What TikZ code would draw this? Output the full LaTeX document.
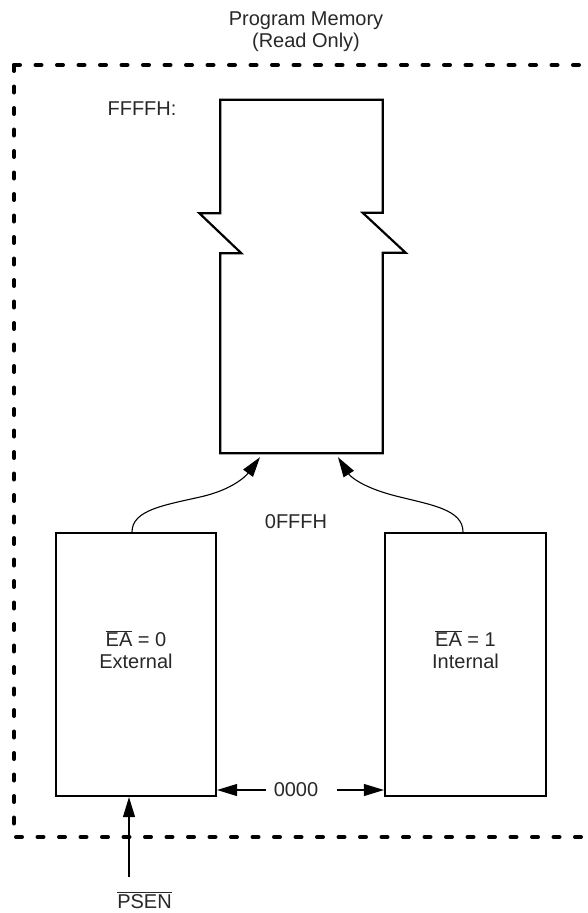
\documentclass[tikz,border=0pt]{standalone}
\usepackage{fontspec}
\setmainfont{Liberation Sans}
\usetikzlibrary{calc,arrows.meta,positioning}
\definecolor{inkgray}{RGB}{40,40,40}
\tikzset{
    % memory block outline
    membox/.style={
        draw=black, line width=2.2pt, inner sep=0pt,
        minimum width=160pt, minimum height=263pt
    },
    % plain labels
    lbl/.style={font=\fontsize{20}{22}\selectfont, text=inkgray, inner sep=0pt, align=center},
    % arrows
    thinarrow/.style={draw=black, line width=1.1pt, -{Triangle[length=20pt,width=12pt]}},
    % dashed outline of the program memory
    border/.style={draw=black, line width=4pt, dash pattern=on 6pt off 15.5pt, line cap=round},
}
\newcommand{\ovl}[1]{$\overline{\mbox{#1}}$}

\begin{document}
\begin{tikzpicture}[x=1pt,y=-1pt]
  \useasboundingbox (0,0) rectangle (588,913);

  % --- dashed border ---
  \draw[border] (14,65) -- (600,65);
  \draw[border] (14,65) -- (14,837) -- (600,837);

  \node[lbl, anchor=base] (title) at (306,47) {Program Memory\\(Read Only)};

  % --- the 64K block with break marks ---
  \node[inner sep=0pt, minimum width=162pt, minimum height=353pt] (rom) at (301.5,276.5) {};
  \draw[line width=2.2pt, line join=miter]
        (rom.north west) -- (rom.north east) -- ++(0,113) -- ++(-20,0) -- ++(43,40) -- ++(-23,0)
        -- (rom.south east) -- (rom.south west) -- ++(0,-200) -- ++(21,0) -- ++(-42,-40) -- ++(21,0) -- cycle;
  \node[lbl] (top) at (142,108.5) {FFFFH:};

  % --- external and internal blocks ---
  \node[membox] (ext) at (136,664.5) {};
  \node[membox, minimum width=161pt] (int) at (465.5,664.5) {};
  \node[lbl, anchor=base] (extlbl) at ([yshift=-4pt]ext.center) {\ovl{EA} = 0\\External};
  \node[lbl, anchor=base] (intlbl) at ([yshift=-4pt]int.center) {\ovl{EA} = 1\\Internal};

  \node[lbl] (fff) at (296,522) {0FFFH};
  \coordinate (lt) at ([xshift=-41.5pt,yshift=-4pt]rom.south);
  \coordinate (rt) at ([xshift=36.5pt,yshift=-4pt]rom.south);
  \draw[thinarrow] ([xshift=-4pt]ext.north) .. controls +(0,-22) and (165,505) .. (200,497)
        .. controls (232,490) and (246,476) .. (lt);
  \draw[thinarrow] ([xshift=-2.5pt]int.north) .. controls +(0,-22) and (432,505) .. (400,497)
        .. controls (362,488) and (350,476) .. (rt);

  % --- reset address ---
  \node[lbl] (zero) at (296,790) {0000};
  \draw[thinarrow] ([xshift=-8pt]zero.west) -- (zero.west -| ext.east);
  \draw[thinarrow] ([xshift=19pt]zero.east) -- (zero.east -| int.west);

  % --- PSEN ---
  \node[lbl, anchor=base] (psen) at (144.5,908) {\ovl{PSEN}};
  \coordinate (psenfoot) at (129,877);
  \draw[thinarrow] (psenfoot) -- (psenfoot |- ext.south);
\end{tikzpicture}
\end{document}
